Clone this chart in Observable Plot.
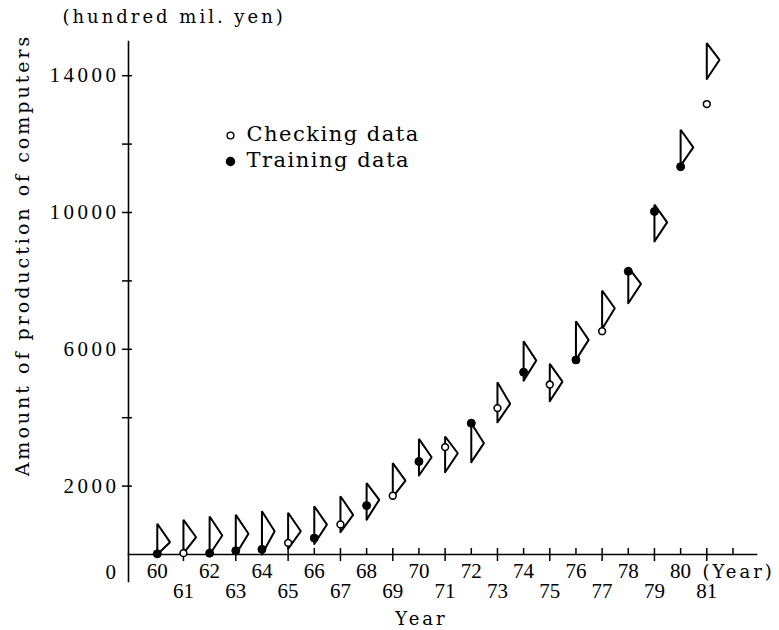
<!DOCTYPE html>
<html>
<head>
<meta charset="utf-8">
<script src="https://cdn.jsdelivr.net/npm/d3@7"></script>
<script src="https://cdn.jsdelivr.net/npm/@observablehq/plot@0.6"></script>
<style>
  html, body { margin: 0; padding: 0; background: #fff; }
  #chart svg { display: block; }
  #chart svg text { letter-spacing: 3px; }
  #chart g[aria-label="x-axis tick label"] text { letter-spacing: 0; font-family: "Liberation Serif", serif !important; font-size: 21px !important; }
  #chart g[aria-label="y-axis tick label"] text { letter-spacing: 3.5px; font-family: "Liberation Serif", serif !important; font-size: 21px !important; }
  #chart g.legend-text text { letter-spacing: 1.5px; }
</style>
</head>
<body>
<div id="chart"></div>
<script>
// ---- data (hundred million yen) ----
const years = [60,61,62,63,64,65,66,67,68,69,70,71,72,73,74,75,76,77,78,79,80,81];
const dataKind = ["T","C","T","T","T","C","T","C","T","C","T","C","T","C","T","C","T","C","T","T","T","C"];
const observed = [20,40,40,110,150,340,480,880,1430,1720,2720,3140,3840,4280,5330,4970,5690,6530,8280,10030,11340,13170];
const fuzzyLow =    [0,30,0,0,0,165,310,650,1020,1675,2310,2405,2700,3865,5085,4480,5690,6595,7345,9155,11370,13905];
const fuzzyCenter = [360,505,555,605,680,680,875,1160,1600,2160,2845,2960,3255,4405,5670,5055,6275,7200,7910,9710,11905,14460];
const fuzzyHigh =   [900,1015,1110,1160,1265,1220,1410,1705,2090,2670,3380,3450,3840,5035,6235,5575,6820,7715,8395,10230,12420,14955];

const yTickValues = [2000,4000,6000,8000,10000,12000,14000];
const yTickLabels = [2000,6000,10000,14000];
const xTickValues = [60,61,62,63,64,65,66,67,68,69,70,71,72,73,74,75,76,77,78,79,80,81,82];
const xEvenLabels = [60,62,64,66,68,70,72,74,76,78,80];
const xOddLabels  = [61,63,65,67,69,71,73,75,77,79,81];
const xOddTicks   = [61,63,65,67,69,71,73,75,77,79,81];

const unitLabel = "(hundred mil. yen)";
const yTitle = "Amount of production of computers";
const xTitle = "Year";
const xUnit = "(Year)";
const legendLabels = ["Checking data", "Training data"];

// ---- derived tables ----
const apexOffset = 0.485; // membership grade 1 drawn as this many years
const points = years.map((yr, i) => ({year: yr, value: observed[i], kind: dataKind[i]}));
const triangleRows = years.flatMap((yr, i) => [
  {year: yr, x: yr, y: fuzzyLow[i]},
  {year: yr, x: yr + apexOffset, y: fuzzyCenter[i]},
  {year: yr, x: yr, y: fuzzyHigh[i]},
  {year: yr, x: yr, y: fuzzyLow[i]}
]);

const serif = "DejaVu Serif";
const digits = "Liberation Serif";

const chart = Plot.plot({
  width: 779,
  height: 630,
  marginLeft: 128,
  marginRight: 23,
  marginTop: 41,
  marginBottom: 76,
  style: {fontFamily: serif, fontSize: "19px", color: "black", background: "white", overflow: "visible"},
  x: {domain: [58.9, 82.9]},
  y: {domain: [0, 15000]},
  marks: [
    // axes lines
    Plot.frame({anchor: "left", insetBottom: -27, strokeWidth: 1.6}),
    Plot.frame({anchor: "bottom", strokeWidth: 1.6}),
    // y ticks (crossing)
    Plot.axisY({ticks: yTickValues, tickSize: 10, dx: 4, strokeWidth: 1.5, tickFormat: () => "", label: null}),
    // y tick labels
    Plot.axisY({ticks: yTickLabels, tickSize: 0, tickPadding: 9, tickFormat: d => String(d),
      fontFamily: digits, fontSize: 21, label: null}),
    Plot.axisY({ticks: [0], tickSize: 0, tickPadding: 9, dy: 18, tickFormat: d => String(d),
      fontFamily: digits, fontSize: 21, label: null}),
    // x ticks: all upward, odd also downward
    Plot.axisX({ticks: xTickValues, tickSize: 6, dy: -6, strokeWidth: 1.5, tickFormat: () => "", label: null}),
    Plot.axisX({ticks: xOddTicks, tickSize: 7, strokeWidth: 1.5, tickFormat: () => "", label: null}),
    // x tick labels, two staggered rows
    Plot.axisX({ticks: xEvenLabels, tickSize: 0, tickPadding: 9, tickFormat: d => String(d),
      fontFamily: digits, fontSize: 21, label: null}),
    Plot.axisX({ticks: xOddLabels, tickSize: 0, tickPadding: 29, tickFormat: d => String(d),
      fontFamily: digits, fontSize: 21, label: null}),
    // fuzzy output triangles
    Plot.line(triangleRows, {x: "x", y: "y", z: "year", stroke: "black", strokeWidth: 2,
      strokeLinejoin: "miter", curve: "linear"}),
    // observed data
    Plot.dot(points.filter(d => d.kind === "C"), {x: "year", y: "value", r: 3.4, fill: "white", stroke: "black", strokeWidth: 1.6}),
    Plot.dot(points.filter(d => d.kind === "T"), {x: "year", y: "value", r: 4, fill: "black", stroke: "black", strokeWidth: 1}),
    // titles
    Plot.text([unitLabel], {frameAnchor: "top-left", dx: -66, dy: -24, textAnchor: "start", lineAnchor: "middle", fontSize: 18}),
    Plot.text([yTitle], {frameAnchor: "left", rotate: -90, dx: -106, dy: -43, textAnchor: "middle", lineAnchor: "middle", fontSize: 19}),
    Plot.text([xTitle], {frameAnchor: "bottom", dx: -21, dy: 65, textAnchor: "middle", lineAnchor: "middle", fontSize: 18}),
    Plot.text([xUnit], {frameAnchor: "bottom-right", dx: -54, dy: 18, textAnchor: "start", lineAnchor: "middle", fontSize: 18}),
    // legend
    Plot.dot([legendLabels[0]], {frameAnchor: "top-left", dx: 102, dy: 94, r: 3.4, fill: "white", stroke: "black", strokeWidth: 1.4}),
    Plot.dot([legendLabels[1]], {frameAnchor: "top-left", dx: 102, dy: 120, r: 4, fill: "black", stroke: "black"}),
    Plot.text([legendLabels[0]], {frameAnchor: "top-left", dx: 118, dy: 93, textAnchor: "start", lineAnchor: "middle", fontSize: 21, className: "legend-text"}),
    Plot.text([legendLabels[1]], {frameAnchor: "top-left", dx: 118, dy: 119, textAnchor: "start", lineAnchor: "middle", fontSize: 21, className: "legend-text"})
  ]
});
document.getElementById("chart").appendChild(chart);
</script>
</body>
</html>
